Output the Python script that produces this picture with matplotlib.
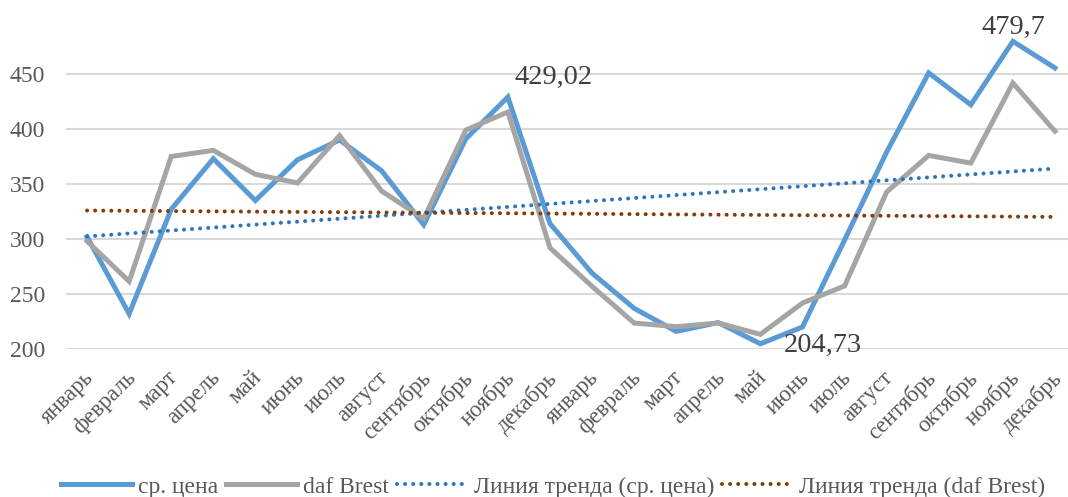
import numpy as np
import matplotlib
matplotlib.use("Agg")
import matplotlib.pyplot as plt
from matplotlib.transforms import ScaledTranslation

months = ["январь", "февраль", "март", "апрель", "май", "июнь", "июль", "август",
          "сентябрь", "октябрь", "ноябрь", "декабрь"] * 2
avg_price = [302, 232, 327, 373, 335, 372, 390, 362, 313, 391, 429.02, 314,
             269, 237, 216, 224, 204.73, 220, 299, 379, 451, 422, 479.7, 455.5]
daf_brest = [298, 261.5, 375, 380.6, 358.8, 351, 394, 343.6, 318.5, 399, 415.5, 292,
             257, 223.6, 220.3, 223.6, 213.3, 241.8, 257.3, 342.7, 376, 369, 441.8, 398]
yticks = [200, 250, 300, 350, 400, 450]
series_names = ["ср. цена", "daf Brest", "Линия тренда (ср. цена)", "Линия тренда (daf Brest)"]
labels_to_show = {10: "429,02", 16: "204,73", 22: "479,7"}

plt.rcParams['font.family'] = ['Liberation Serif', 'DejaVu Serif']

W, H = 1068, 497
fig = plt.figure(figsize=(W / 100, H / 100), dpi=100)
left_px, right_px, bottom_px = 66, 1076, 349
ax = fig.add_axes([left_px / W, 1 - bottom_px / H, (right_px - left_px) / W, bottom_px / H])

x = np.arange(1, len(avg_price) + 1)
c_blue = '#5B9BD5'
c_gray = '#A5A5A5'
c_tblue = '#2E75B6'
c_tbrown = '#843C0C'

l1, = ax.plot(x, avg_price, color=c_blue, lw=3.6, solid_joinstyle='miter', zorder=3)
l2, = ax.plot(x, daf_brest, color=c_gray, lw=3.6, solid_joinstyle='miter', zorder=3)

p1 = np.polyfit(x, avg_price, 1)
p2 = np.polyfit(x, daf_brest, 1)
dots = (0, (0.01, 2.0))
l3, = ax.plot(x, np.polyval(p1, x), color=c_tblue, lw=2.9, ls=dots,
              dash_capstyle='round', zorder=4)
l4, = ax.plot(x, np.polyval(p2, x), color=c_tbrown, lw=2.9, ls=dots,
              dash_capstyle='round', zorder=4)

ax.set_xlim(0.5, len(x) + 0.5)
ax.set_ylim(200, 200 + 349 / 1.1)
ax.set_yticks(yticks)
ax.set_xticks(x)
ax.set_xticklabels(months, rotation=45, ha='right', va='top', rotation_mode='anchor',
                   fontsize=16.5, color='#595959')
ax.tick_params(axis='x', length=0, pad=13)
ax.tick_params(axis='y', length=0, pad=15, labelsize=17, labelcolor='#595959')
shift = ScaledTranslation(-4 / 100, 0, fig.dpi_scale_trans)
for lab in ax.get_xticklabels():
    lab.set_transform(lab.get_transform() + shift)
ax.grid(axis='y', color='#D9D9D9', lw=1.5)
ax.set_axisbelow(True)
for s in ax.spines.values():
    s.set_visible(False)

offsets = {10: (7, 20, 'left'), 16: (23, -2, 'left'), 22: (1, 14, 'center')}
for i, txt in labels_to_show.items():
    dx, dy, ha = offsets[i]
    ax.annotate(txt, (x[i], avg_price[i]), xytext=(dx, dy), textcoords='offset pixels',
                ha=ha, va='center', fontsize=20.5, color='#404040', zorder=5,
                annotation_clip=False)

fig.legend([l1, l2, l3, l4], series_names, loc='center', bbox_to_anchor=(0.518, 1 - 487 / H),
           ncol=4, frameon=False, fontsize=17, handlelength=3.0, handletextpad=0.25,
           columnspacing=0.35, labelcolor='#595959', borderaxespad=0)

fig.savefig('out.png', dpi=100)
